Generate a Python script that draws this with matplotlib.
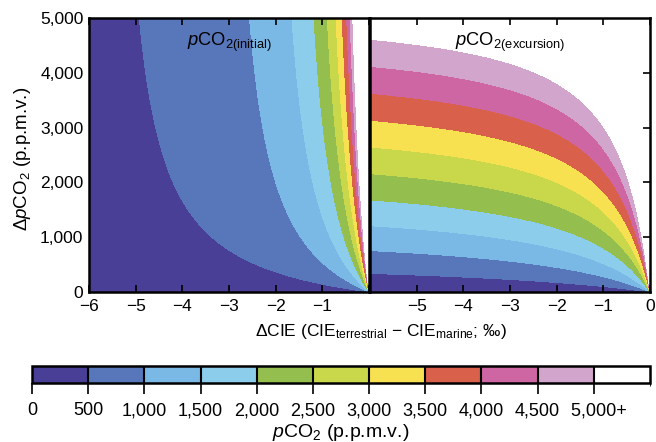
import numpy as np
import matplotlib.pyplot as plt
from matplotlib.colors import ListedColormap, BoundaryNorm
from matplotlib.cm import ScalarMappable

plt.rcParams['font.family'] = ['Liberation Sans', 'DejaVu Sans']
plt.rcParams['mathtext.fontset'] = 'custom'
plt.rcParams['mathtext.rm'] = 'Liberation Sans'
plt.rcParams['mathtext.it'] = 'Liberation Sans:italic'

# carbon isotope fractionation model constants (Schubert & Jahren)
A = 28.26
B = 0.22
C = 23.9

# pCO2 contour bands (p.p.m.v.), last band = 5,000+
levels = [0, 500, 1000, 1500, 2000, 2500, 3000, 3500, 4000, 4500, 5000, 5500]
band_colors = ['#4a3f97', '#5877ba', '#7ab8e6', '#8ccdec', '#94bf4f', '#c9d84a',
               '#f8e150', '#d9604a', '#cf66a4', '#d1a5cc', '#ffffff']
cbar_labels = ['0', '500', '1,000', '1,500', '2,000', '2,500', '3,000',
               '3,500', '4,000', '4,500', '  5,000+']
y_ticks = [0, 1000, 2000, 3000, 4000, 5000]
y_labels = ['0', '1,000', '2,000', '3,000', '4,000', '5,000']
x_ticks = [-6, -5, -4, -3, -2, -1, 0]

# grid of delta CIE (per mil) and delta pCO2
dcie = np.linspace(-6, -1e-4, 1500)
dp = np.linspace(1, 5000, 1000)
X, Y = np.meshgrid(dcie, dp)

# solve f(p0 + dp) - f(p0) = -dCIE for initial pCO2
d = -X
w = (-B * Y + np.sqrt((B * Y) ** 2 + 4 * A ** 2 * B * Y / d)) / 2
p_init = (w - A) / B - C
p_init = np.clip(p_init, 1, 1e6)
p_exc = np.clip(p_init + Y, 1, 1e6)

cmap = ListedColormap(band_colors)
norm = BoundaryNorm(levels, cmap.N)
plot_levels = levels[:-1] + [1e7]

fig = plt.figure(figsize=(6.56, 4.42), dpi=100)
ax1 = fig.add_axes([0.1357, 0.3394, 0.4268, 0.6199])
ax2 = fig.add_axes([0.5640, 0.3394, 0.4268, 0.6199])

ax1.contourf(X, Y, p_init, levels=plot_levels, colors=band_colors)
ax2.contourf(X, Y, p_exc, levels=plot_levels, colors=band_colors)

for ax in (ax1, ax2):
    ax.set_xlim(-6, 0)
    ax.set_ylim(0, 5000)
    ax.set_xticks(x_ticks)
    ax.set_yticks(y_ticks)
    for s in ax.spines.values():
        s.set_linewidth(1.8)
    ax.tick_params(axis='x', direction='in', top=True, length=5, width=1.2,
                   labelsize=12.5, pad=5)

ax1.set_xticklabels(['\u22126', '\u22125', '\u22124', '\u22123', '\u22122', '\u22121', ''])
ax2.set_xticklabels(['', '\u22125', '\u22124', '\u22123', '\u22122', '\u22121', '0'])
ax1.set_yticklabels(y_labels)
ax1.tick_params(axis='y', length=0, labelsize=12.5, pad=4)
ax2.set_yticks(y_ticks[1:-1])
ax2.tick_params(axis='y', direction='in', left=False, right=True, labelleft=False,
                length=5, width=1.2)

ax1.text(0.5, 0.91, r'$\it{p}$CO$_{2\rm{(initial)}}$', transform=ax1.transAxes,
         ha='center', va='center', fontsize=13.2)
ax2.text(0.5, 0.91, r'$\it{p}$CO$_{2\rm{(excursion)}}$', transform=ax2.transAxes,
         ha='center', va='center', fontsize=13.2)

fig.text(0.035, 0.64, r'$\Delta\it{p}$CO$_2$ (p.p.m.v.)', rotation=90,
         ha='center', va='center', fontsize=13.5)
fig.text(0.581, 0.25, r'$\Delta$CIE (CIE$_{\rm{terrestrial}}$ $-$ CIE$_{\rm{marine}}$; ‰)',
         ha='center', va='center', fontsize=12.5)

# colour key
cax = fig.add_axes([0.0488, 0.1335, 0.9420, 0.0385])
sm = ScalarMappable(norm=norm, cmap=cmap)
cb = fig.colorbar(sm, cax=cax, orientation='horizontal', drawedges=True,
                  ticks=levels[:-1])
cb.set_ticklabels(cbar_labels)
cb.outline.set_linewidth(1.8)
cb.dividers.set_linewidth(1.5)
cb.dividers.set_color('black')
cax.tick_params(axis='x', direction='out', length=8, width=1.2, labelsize=13, pad=6)
cb.set_label(r'$\it{p}$CO$_2$ (p.p.m.v.)', fontsize=14, labelpad=2)

plt.savefig('out.png', dpi=100)
plt.close()
